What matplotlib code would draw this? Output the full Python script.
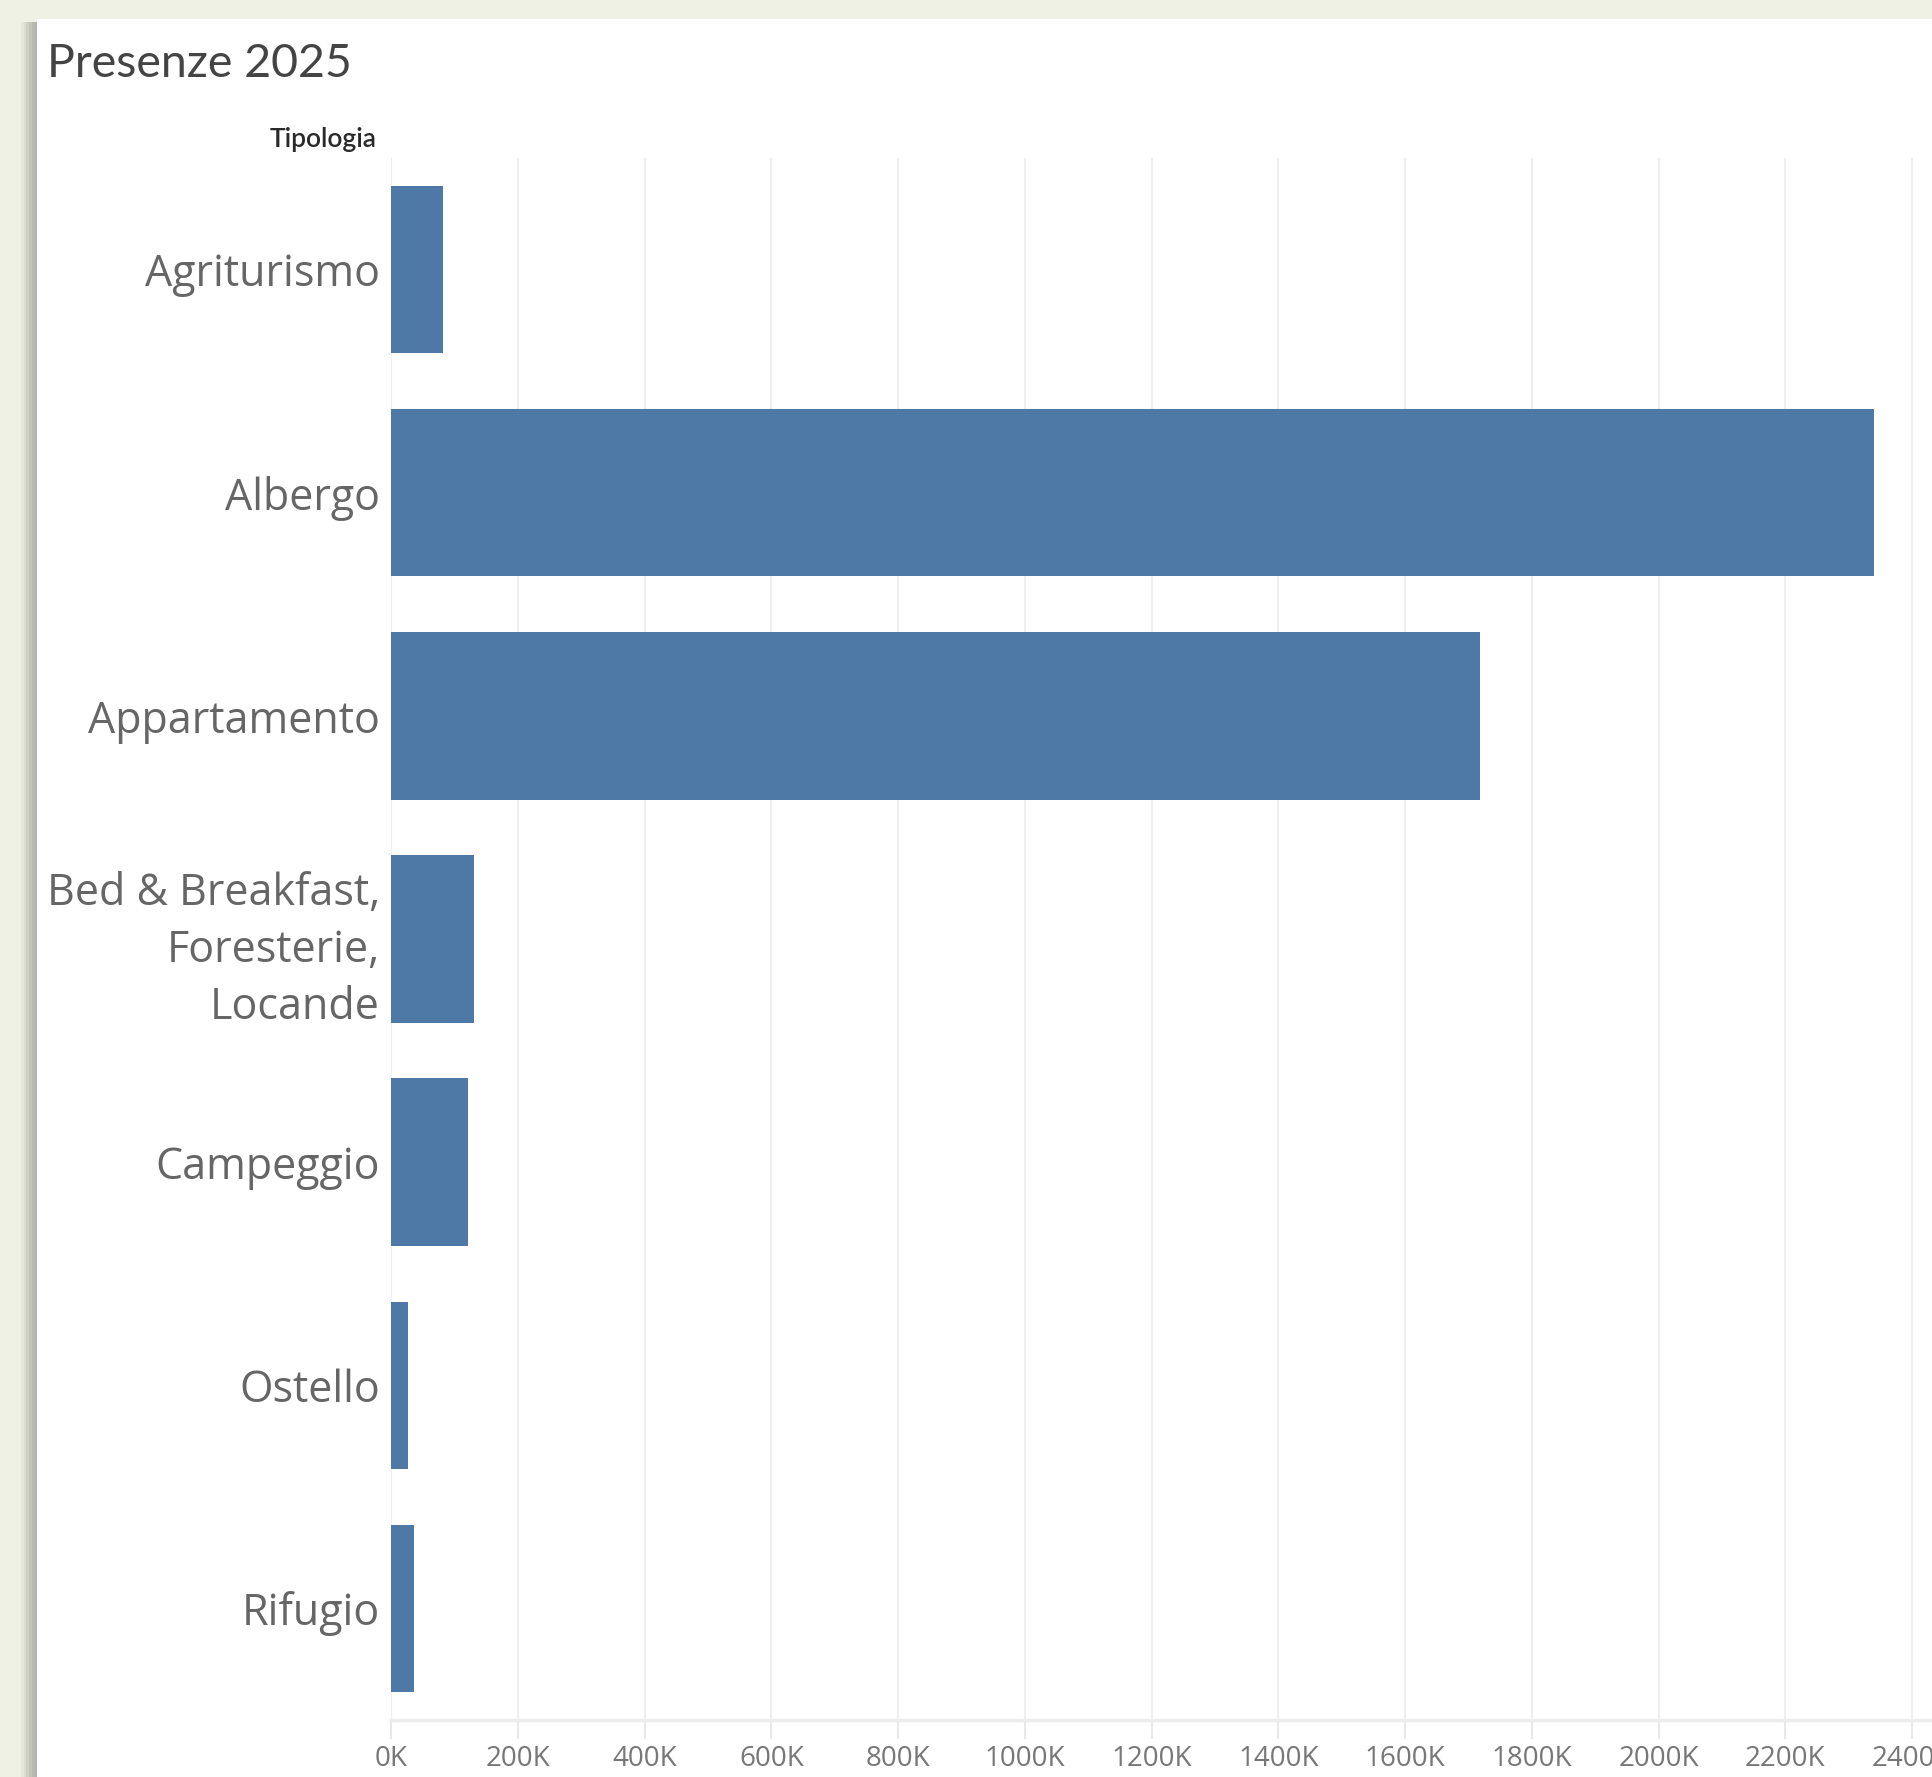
import matplotlib.pyplot as plt
from matplotlib.patches import Rectangle

# Presenze per tipologia (valori in migliaia)
categorie = ['Agriturismo', 'Albergo', 'Appartamento',
             'Bed & Breakfast,\nForesterie,\nLocande', 'Campeggio',
             'Ostello', 'Rifugio']
presenze_k = [82, 2340, 1718, 131, 121, 26.5, 37]
tick_valori = list(range(0, 2401, 200))
tick_etichette = [f'{v}K' for v in tick_valori]

W, H = 1933, 1777
fig = plt.figure(figsize=(W / 100, H / 100), dpi=100)
fig.patch.set_facecolor('#eff1e4')

# ombra sfumata a sinistra del pannello
ombra = ['#e6e8dc', '#dcded2', '#cfd1c5', '#c3c5b9', '#b8baae', '#b3b5a9']
for i, c in enumerate(ombra):
    fig.patches.append(Rectangle(((21 + i * 2.7) / W, 0), 2.8 / W, 1 - 22 / H,
                                 transform=fig.transFigure, facecolor=c,
                                 edgecolor='none', zorder=-10))
fig.patches.append(Rectangle((37 / W, 0), 1, 1 - 18.5 / H, transform=fig.transFigure,
                             facecolor='white', edgecolor='none', zorder=-9))

left = 391 / W
bottom = 57 / H
top = 158 / H
ax = fig.add_axes([left, bottom, 1 - left, 1 - top - bottom])
ax.set_zorder(1)
ax.set_facecolor('none')

y = list(range(len(categorie)))
ax.barh(y, [v * 1000 for v in presenze_k], height=0.75, color='#4e79a7', zorder=3)

ax.set_ylim(len(categorie) - 0.5, -0.5)
ax.set_xlim(0, 2433000)
ax.set_yticks(y)
ax.set_yticklabels(categorie, fontsize=31, color='#666666', family='Open Sans',
                   linespacing=1.38)
ax.set_xticks([v * 1000 for v in tick_valori])
ax.set_xticklabels(tick_etichette, fontsize=20, color='#777777', family='Open Sans')
ax.tick_params(axis='y', length=0, pad=8)
ax.tick_params(axis='x', length=14, color='#e8e8e8', width=1.5, pad=4)

ax.grid(axis='x', color='#efefef', linewidth=1.5, zorder=0)
for s in ['top', 'right', 'left']:
    ax.spines[s].set_visible(False)
ax.spines['bottom'].set_color('#ececec')
ax.spines['bottom'].set_linewidth(2.5)
ax.axvline(0, color='#f2f2f2', linewidth=1.5, zorder=1)

fig.text(47 / W, 1 - 64 / H, 'Presenze 2025', fontsize=33.5, color='#444444',
         family='Lato', va='center', ha='left')
fig.text(377 / W, 1 - 139 / H, 'Tipologia', fontsize=19, color='#2a2a2a',
         family='Lato', weight='semibold', va='center', ha='right')

fig.savefig('out.png', dpi=100, facecolor=fig.get_facecolor())
